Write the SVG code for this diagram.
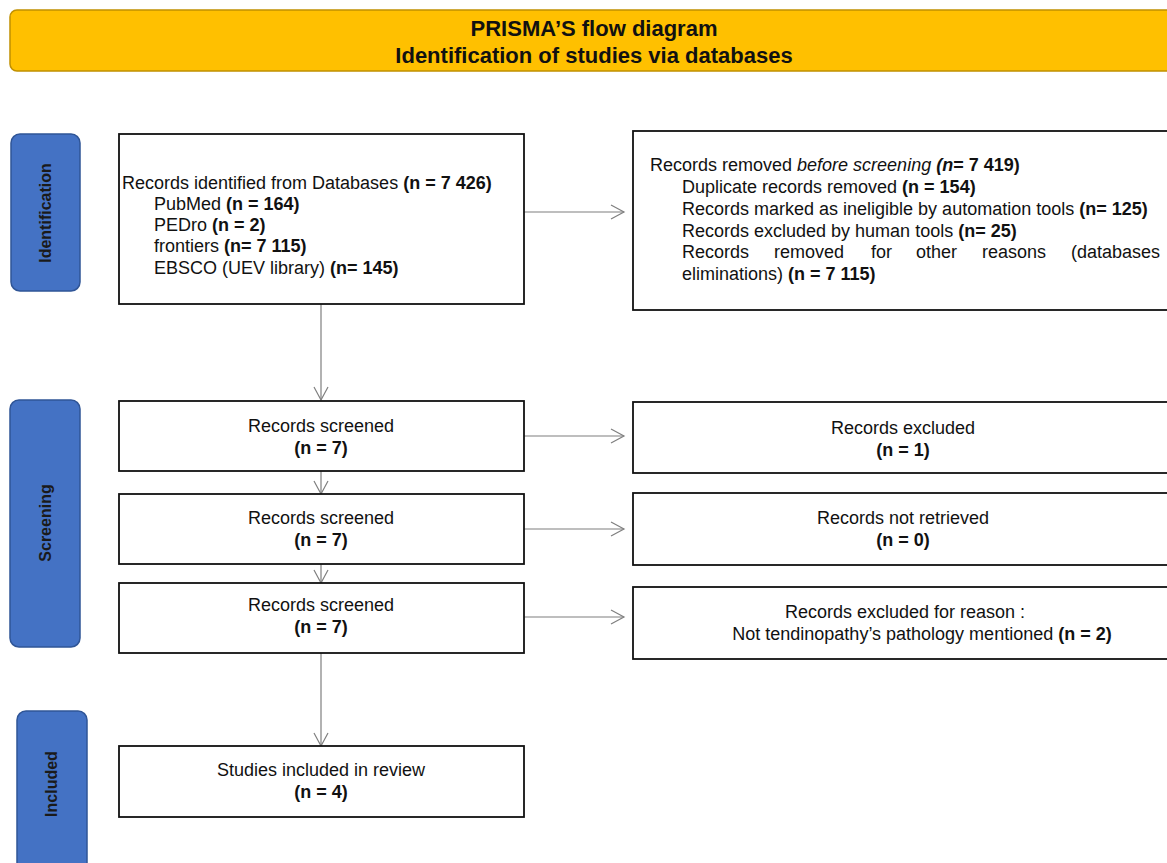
<svg xmlns="http://www.w3.org/2000/svg" width="1167" height="863" viewBox="0 0 1167 863">
<style>
.t{font-family:"Liberation Sans",Arial,sans-serif;font-size:18px;fill:#111;}
.b{font-weight:bold;}
.c{text-anchor:middle;}
.box{fill:#fff;stroke:#111;stroke-width:1.8;}
.lane{fill:#4472C4;stroke:#2F5597;stroke-width:1.5;}
.lt{font-family:"Liberation Sans",Arial,sans-serif;font-size:16px;font-weight:bold;fill:#1a1a1a;text-anchor:middle;}
.ttl{font-family:"Liberation Sans",Arial,sans-serif;font-size:22px;font-weight:bold;fill:#111;text-anchor:middle;}
.ar{fill:none;stroke:#7f7f7f;stroke-width:1.2;marker-end:url(#ah);}
</style>
<defs>
<marker id="ah" markerUnits="userSpaceOnUse" markerWidth="16" markerHeight="16" refX="14" refY="8" orient="auto">
<path d="M1,1 L14,8 L1,15" fill="none" stroke="#7f7f7f" stroke-width="1.2"/>
</marker>
</defs>
<rect width="1167" height="863" fill="#fff"/>

<g id="title">
<rect x="10" y="10" width="1180" height="61" rx="7" fill="#FFC000" stroke="#C09000" stroke-width="1.5"/>
<text class="ttl" x="594" y="36">PRISMA’S flow diagram</text>
<text class="ttl" x="594" y="63">Identification of studies via databases</text>
</g>

<g id="lane-identification">
<rect class="lane" x="11" y="134" width="69" height="157" rx="9"/>
<text class="lt" transform="translate(51,213) rotate(-90)">Identification</text>
</g>
<g id="lane-screening">
<rect class="lane" x="10" y="400" width="70" height="247" rx="9"/>
<text class="lt" transform="translate(51,523) rotate(-90)">Screening</text>
</g>
<g id="lane-included">
<rect class="lane" x="17" y="711" width="70" height="165" rx="9"/>
<text class="lt" transform="translate(57,784) rotate(-90)">Included</text>
</g>

<g id="connectors">
<line class="ar" x1="524" y1="212" x2="624" y2="212"/>
<line class="ar" x1="524" y1="436" x2="624" y2="436"/>
<line class="ar" x1="524" y1="529" x2="624" y2="529"/>
<line class="ar" x1="524" y1="617" x2="624" y2="617"/>
<line class="ar" x1="321" y1="304" x2="321" y2="400"/>
<line class="ar" x1="321" y1="471" x2="321" y2="494"/>
<line class="ar" x1="321" y1="564" x2="321" y2="583"/>
<line class="ar" x1="321" y1="653" x2="321" y2="746"/>
</g>

<g id="records-identified">
<rect class="box" x="119" y="134" width="405" height="170"/>
<text class="t" x="122" y="189">Records identified from Databases <tspan class="b">(n = 7 426)</tspan></text>
<text class="t" x="154" y="210">PubMed <tspan class="b">(n = 164)</tspan></text>
<text class="t" x="154" y="231">PEDro <tspan class="b">(n = 2)</tspan></text>
<text class="t" x="154" y="252">frontiers <tspan class="b">(n= 7 115)</tspan></text>
<text class="t" x="154" y="274">EBSCO (UEV library) <tspan class="b">(n= 145)</tspan></text>
</g>

<g id="records-removed">
<rect class="box" x="633" y="131" width="560" height="179"/>
<text class="t" x="650" y="171">Records removed <tspan font-style="italic">before screening</tspan> <tspan class="b"><tspan font-style="italic">(n</tspan>= 7 419)</tspan></text>
<text class="t" x="682" y="193">Duplicate records removed <tspan class="b">(n = 154)</tspan></text>
<text class="t" x="682" y="215">Records marked as ineligible by automation tools <tspan class="b">(n= 125)</tspan></text>
<text class="t" x="682" y="237">Records excluded by human tools <tspan class="b">(n= 25)</tspan></text>
<text class="t" x="682" y="258">Records</text>
<text class="t" x="774" y="258">removed</text>
<text class="t" x="871" y="258">for</text>
<text class="t" x="916" y="258">other</text>
<text class="t" x="982" y="258">reasons</text>
<text class="t" x="1071" y="258">(databases</text>
<text class="t" x="682" y="280">eliminations) <tspan class="b">(n = 7 115)</tspan></text>
</g>

<g id="screened-1">
<rect class="box" x="119" y="401" width="405" height="70"/>
<text class="t c" x="321" y="432">Records screened</text>
<text class="t c b" x="321" y="454">(n = 7)</text>
</g>
<g id="screened-2">
<rect class="box" x="119" y="494" width="405" height="70"/>
<text class="t c" x="321" y="524">Records screened</text>
<text class="t c b" x="321" y="546">(n = 7)</text>
</g>
<g id="screened-3">
<rect class="box" x="119" y="583" width="405" height="70"/>
<text class="t c" x="321" y="611">Records screened</text>
<text class="t c b" x="321" y="633">(n = 7)</text>
</g>

<g id="excluded">
<rect class="box" x="633" y="402" width="560" height="71"/>
<text class="t c" x="903" y="434">Records excluded</text>
<text class="t c b" x="903" y="456">(n = 1)</text>
</g>
<g id="not-retrieved">
<rect class="box" x="633" y="493" width="560" height="72"/>
<text class="t c" x="903" y="524">Records not retrieved</text>
<text class="t c b" x="903" y="546">(n = 0)</text>
</g>
<g id="excluded-reason">
<rect class="box" x="633" y="587" width="560" height="72"/>
<text class="t c" x="905" y="618">Records excluded for reason :</text>
<text class="t c" x="922" y="640">Not tendinopathy’s pathology mentioned <tspan class="b">(n = 2)</tspan></text>
</g>

<g id="included">
<rect class="box" x="119" y="746" width="405" height="71"/>
<text class="t c" x="321" y="776">Studies included in review</text>
<text class="t c b" x="321" y="798">(n = 4)</text>
</g>
</svg>
